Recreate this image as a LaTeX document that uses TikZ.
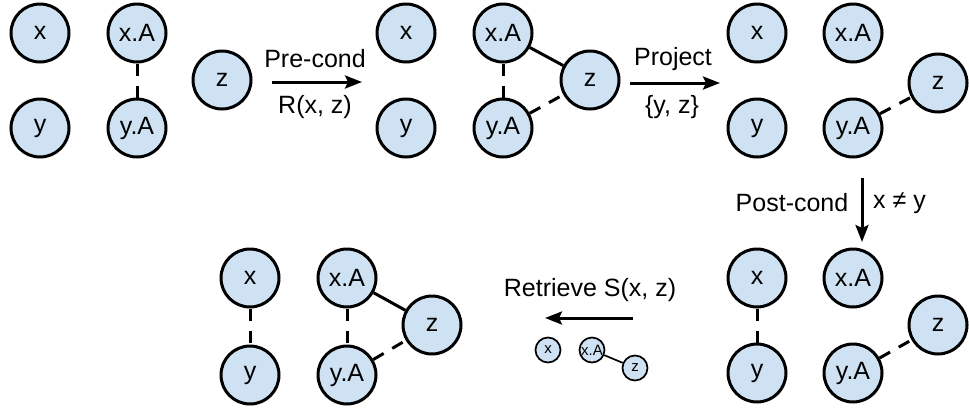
\documentclass[tikz,border=0pt]{standalone}
\usepackage{fontspec}
\setmainfont{Liberation Sans}
\usetikzlibrary{arrows.meta}
\definecolor{varblue}{HTML}{CFE2F3}

\begin{document}
\begin{tikzpicture}[x=1pt,y=-1pt,
  var/.style={circle,draw,line width=3pt,fill=varblue,minimum size=58pt,inner sep=0pt,font=\fontsize{25}{30}\selectfont},
  smallvar/.style={circle,draw,line width=1.7pt,fill=varblue,minimum size=25pt,inner sep=0pt,font=\fontsize{15}{18}\selectfont},
  link/.style={line width=3pt},
  maybe/.style={line width=3pt,dash pattern=on 12pt off 10pt},
  op/.style={line width=3pt,-{Stealth[length=17pt,width=13pt,inset=3pt]}},
  lbl/.style={font=\fontsize{25}{30}\selectfont,inner sep=0pt}]
  \useasboundingbox (0,0) rectangle (969,410);

  % start
  \node[var] (x1)  at (40,33)   {x};
  \node[var] (xA1) at (137,33)  {x.A};
  \node[var] (y1)  at (40,128)  {y};
  \node[var] (yA1) at (137,128) {y.A};
  \node[var] (z1)  at (222,80)  {z};
  \draw[maybe] (xA1) -- (yA1);

  \coordinate (pcA) at (272,82);
  \coordinate (pcB) at (362,82);
  \draw[op] (pcA) -- (pcB);
  \node[lbl] (pcT) at (315,59)  {Pre-cond};
  \node[lbl] (pcR) at (315,107) {R(x, z)};

  % after pre-condition
  \node[var] (x2)  at (406,33)  {x};
  \node[var] (xA2) at (503,33)  {x.A};
  \node[var] (y2)  at (406,128) {y};
  \node[var] (yA2) at (503,128) {y.A};
  \node[var] (z2)  at (590,80)  {z};
  \draw[maybe] (xA2) -- (yA2);
  \draw[link] (xA2) -- (z2);
  \draw[maybe] (yA2) -- (z2);

  \coordinate (prA) at (630,83);
  \coordinate (prB) at (720,83);
  \draw[op] (prA) -- (prB);
  \node[lbl] (prT) at (673,59)  {Project};
  \node[lbl] (prS) at (672,107) {\{y, z\}};

  % after projection
  \node[var] (x3)  at (757,33)  {x};
  \node[var] (xA3) at (853,33)  {x.A};
  \node[var] (y3)  at (757,128) {y};
  \node[var] (yA3) at (853,128) {y.A};
  \node[var] (z3)  at (938,83)  {z};
  \draw[maybe] (yA3) -- (z3);

  \coordinate (psA) at (862,178);
  \coordinate (psB) at (862,242);
  \draw[op] (psA) -- (psB);
  \node[lbl] (psT) at (792,203) {Post-cond};
  \node[lbl,anchor=west] (psC) at (873,203) {x ≠ y};

  % after post-condition
  \node[var] (x4)  at (757,278) {x};
  \node[var] (xA4) at (853,278) {x.A};
  \node[var] (y4)  at (757,373) {y};
  \node[var] (yA4) at (853,373) {y.A};
  \node[var] (z4)  at (938,325) {z};
  \draw[maybe] (x4) -- (y4);
  \draw[maybe] (yA4) -- (z4);

  \coordinate (rtA) at (633,318);
  \coordinate (rtB) at (545,318);
  \draw[op] (rtA) -- (rtB);
  \node[lbl] (rtT) at (590,290) {Retrieve S(x, z)};
  \node[smallvar] (xs)  at (548,350) {x};
  \node[smallvar] (xAs) at (592,350) {x.A};
  \node[smallvar] (zs)  at (635,368) {z};
  \draw[line width=1.7pt] (xAs) -- (zs);

  % result
  \node[var] (x5)  at (250,278) {x};
  \node[var] (xA5) at (347,278) {x.A};
  \node[var] (y5)  at (250,375) {y};
  \node[var] (yA5) at (347,375) {y.A};
  \node[var] (z5)  at (432,325) {z};
  \draw[maybe] (x5) -- (y5);
  \draw[maybe] (xA5) -- (yA5);
  \draw[link] (xA5) -- (z5);
  \draw[maybe] (yA5) -- (z5);
\end{tikzpicture}
\end{document}
